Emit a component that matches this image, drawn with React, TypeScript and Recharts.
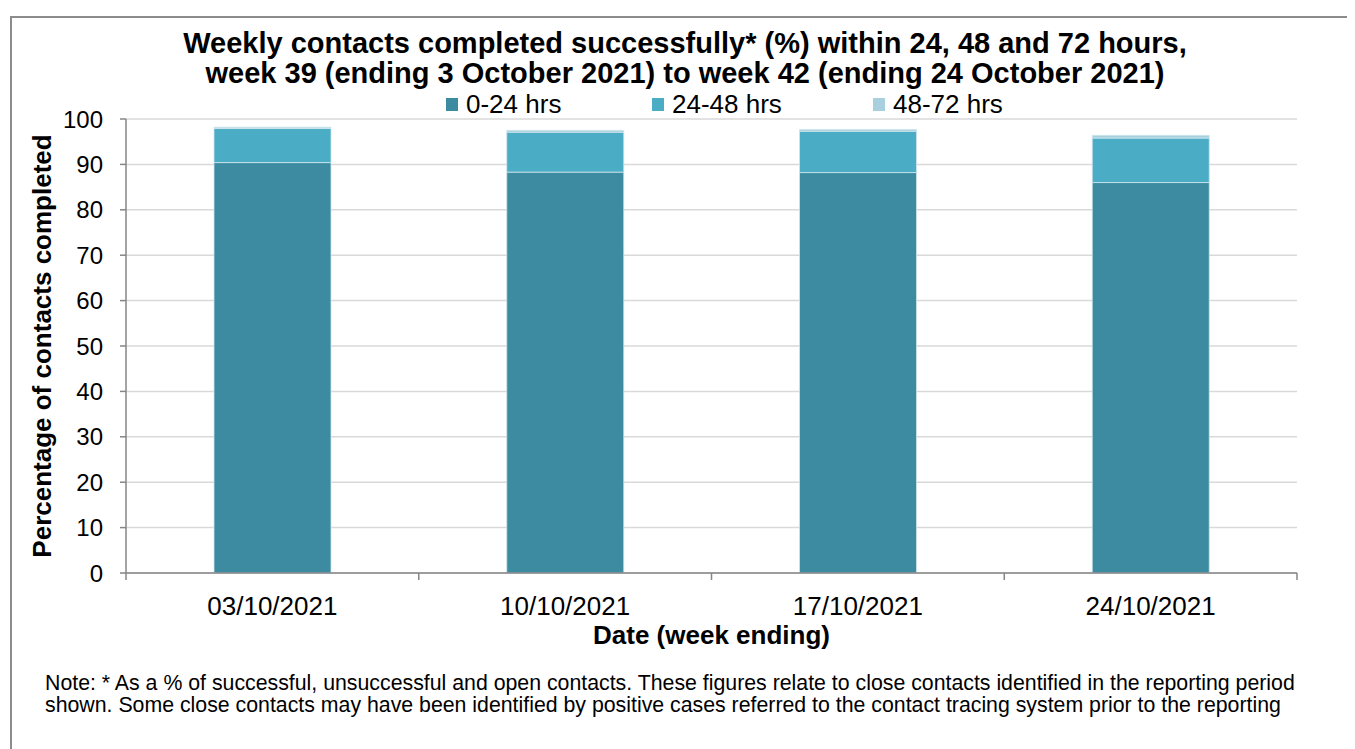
import React from 'react'
import { BarChart, Bar, XAxis, YAxis, CartesianGrid } from 'recharts'

// week ending dates
const weeks = ['03/10/2021', '10/10/2021', '17/10/2021', '24/10/2021']
// % of contacts completed within each window
const within24 = [90.4, 88.3, 88.2, 86.0]
const within48 = [7.5, 8.8, 9.1, 9.8]
const within72 = [0.3, 0.4, 0.4, 0.6]
const yTicks = [0, 10, 20, 30, 40, 50, 60, 70, 80, 90, 100]

const series = [
  { key: 'h24', name: '0-24 hrs', color: '#3D8BA1' },
  { key: 'h48', name: '24-48 hrs', color: '#4BACC6' },
  { key: 'h72', name: '48-72 hrs', color: '#A9D0DE' },
]

const chartData = weeks.map((week, i) => ({
  week,
  h24: within24[i],
  h48: within48[i],
  h72: within72[i],
}))

const FONT = '"Liberation Sans", Arial, sans-serif'
const AXIS = '#868686'

const PLOT_LEFT = 126
const PLOT_RIGHT = 1297
const PLOT_TOP = 119
const PLOT_BOTTOM = 573
const BAND = (PLOT_RIGHT - PLOT_LEFT) / weeks.length

// Excel style: tick marks sit between categories, not under them
const XTick = (props: any) => {
  const { x, y, payload, index } = props
  const left = x - BAND / 2
  return (
    <g>
      <line x1={left} y1={y - 8} x2={left} y2={y - 1} stroke={AXIS} strokeWidth={1.5} />
      {index === weeks.length - 1 && (
        <line x1={x + BAND / 2} y1={y - 8} x2={x + BAND / 2} y2={y - 1} stroke={AXIS} strokeWidth={1.5} />
      )}
      <text x={x} y={y + 34} textAnchor="middle" fontSize={26} fill="#000" fontFamily={FONT}>
        {payload.value}
      </text>
    </g>
  )
}

const legendPos = [446, 652, 873]

export default function App() {
  return (
    <div style={{ position: 'relative', width: 1355, height: 749, marginTop: -8, marginLeft: -8, overflow: 'hidden', background: '#fff', fontFamily: FONT }}>
      <div style={{ position: 'absolute', left: 10, top: 16, width: 1400, height: 800, border: '2px solid #8C8C8C' }} />

      <div style={{ position: 'absolute', left: 0, width: 1370, top: 28, textAlign: 'center', fontWeight: 'bold', fontSize: 29, lineHeight: '30px', color: '#000', whiteSpace: 'nowrap' }}>
        Weekly contacts completed successfully* (%) within 24, 48 and 72 hours,
        <br />
        week 39 (ending 3 October 2021) to week 42 (ending 24 October 2021)
      </div>

      {series.map((s, i) => (
        <div
          key={s.key}
          style={{ position: 'absolute', left: legendPos[i], top: 92, height: 24, display: 'flex', alignItems: 'center', whiteSpace: 'nowrap' }}
        >
          <div style={{ width: 12, height: 13, background: s.color, marginRight: 8 }} />
          <span style={{ fontSize: 26, lineHeight: '24px', color: '#000' }}>{s.name}</span>
        </div>
      ))}

      <div
        style={{
          position: 'absolute', left: 42 - 300, top: 346 - 15, width: 600, height: 30, lineHeight: '30px',
          textAlign: 'center', transform: 'rotate(-90deg)', fontWeight: 'bold', fontSize: 26, color: '#000', whiteSpace: 'nowrap',
        }}
      >
        Percentage of contacts completed
      </div>

      <div style={{ position: 'absolute', left: 0, top: 0 }}>
        <BarChart
          width={1355}
          height={749}
          data={chartData}
          margin={{ top: PLOT_TOP, right: 1355 - PLOT_RIGHT, left: PLOT_LEFT - 70, bottom: 749 - PLOT_BOTTOM - 80 }}
          barSize={117}
        >
          <CartesianGrid vertical={false} stroke="#D9D9D9" strokeWidth={1.5} />
          <XAxis
            dataKey="week"
            height={80}
            stroke={AXIS}
            strokeWidth={1.5}
            tickLine={false}
            tick={<XTick />}
            interval={0}
            label={{ value: 'Date (week ending)', position: 'insideBottom', offset: 9, fontSize: 26, fontWeight: 'bold', fill: '#000', fontFamily: FONT }}
          />
          <YAxis
            width={70}
            domain={[0, 100]}
            ticks={yTicks}
            interval={0}
            stroke={AXIS}
            strokeWidth={1.5}
            tickSize={6}
            tickMargin={17}
            tick={{ fontSize: 24, fill: '#000', fontFamily: FONT }}
          />
          {series.map(s => (
            <Bar
              key={s.key}
              dataKey={s.key}
              name={s.name}
              stackId="a"
              fill={s.color}
              stroke="#CFE6EE"
              strokeWidth={0.8}
              isAnimationActive={false}
            />
          ))}
        </BarChart>
      </div>

      <div style={{ position: 'absolute', left: 45, top: 672, fontSize: 21.3, lineHeight: '22px', color: '#000', width: 1300, whiteSpace: 'nowrap' }}>
        Note: * As a % of successful, unsuccessful and open contacts. These figures relate to close contacts identified in the reporting period
        <br />
        shown. Some close contacts may have been identified by positive cases referred to the contact tracing system prior to the reporting
      </div>
    </div>
  )
}
